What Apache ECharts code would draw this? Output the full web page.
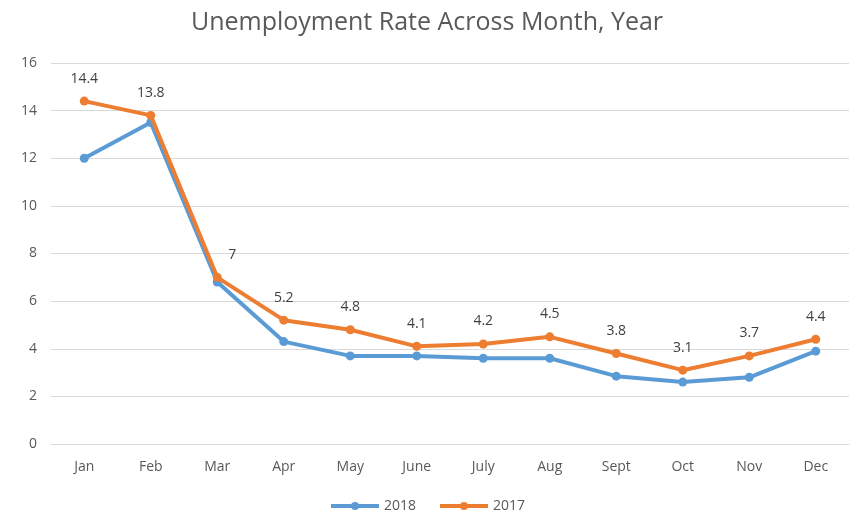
<!DOCTYPE html>
<html><head><meta charset="utf-8">
<script src="https://cdn.jsdelivr.net/npm/echarts@6/dist/echarts.min.js"></script>
<style>html,body{margin:0;padding:0;background:#fff}#c{width:854px;height:519px}</style>
</head><body><div id="c"></div>
<script>
const months = ['Jan','Feb','Mar','Apr','May','June','July','Aug','Sept','Oct','Nov','Dec'];
const rate2018 = [12.0, 13.5, 6.8, 4.3, 3.7, 3.7, 3.6, 3.6, 2.85, 2.6, 2.8, 3.9];
const rate2017 = [14.4, 13.8, 7, 5.2, 4.8, 4.1, 4.2, 4.5, 3.8, 3.1, 3.7, 4.4];
const yTicks = [0, 2, 4, 6, 8, 10, 12, 14, 16];
const FONT = '"Open Sans", "Noto Sans", sans-serif';
const chart = echarts.init(document.getElementById('c'));
const data2017 = rate2017.map((v, i) => i === 2 ? {value: v, label: {offset: [15, 0]}} : v);
chart.setOption({
  animation: false,
  textStyle: {fontFamily: FONT},
  title: {text: 'Unemployment Rate Across Month, Year', left: 'center', top: 5,
    textStyle: {fontSize: 25, fontWeight: 'normal', color: '#595959', fontFamily: FONT}},
  legend: {bottom: 1, left: 'center', itemWidth: 48, itemHeight: 10, itemGap: 22,
    lineStyle: {width: 4}, itemStyle: {},
    textStyle: {fontSize: 14, color: '#595959'},
    data: ['2018', '2017']},
  grid: {left: 51, right: 5, top: 63, bottom: 75},
  xAxis: {type: 'category', data: months, boundaryGap: true,
    axisLine: {lineStyle: {color: '#d9d9d9'}}, axisTick: {show: false},
    axisLabel: {fontSize: 14, color: '#595959', margin: 16}},
  yAxis: {type: 'value', min: yTicks[0], max: yTicks[yTicks.length-1], interval: 2,
    axisLine: {show: false}, axisTick: {show: false},
    axisLabel: {fontSize: 14, color: '#595959', margin: 14},
    splitLine: {lineStyle: {color: '#d9d9d9', width: 1}}},
  series: [
    {name: '2018', type: 'line', data: rate2018, symbol: 'circle', symbolSize: 9,
      lineStyle: {width: 4, color: '#5B9BD5'}, itemStyle: {color: '#5B9BD5'}, z: 2},
    {name: '2017', type: 'line', data: data2017, symbol: 'circle', symbolSize: 9,
      lineStyle: {width: 4, color: '#ED7D31'}, itemStyle: {color: '#ED7D31'}, z: 3,
      label: {show: true, position: 'top', distance: 11, fontSize: 14, color: '#404040'}}
  ]
});
</script></body></html>
